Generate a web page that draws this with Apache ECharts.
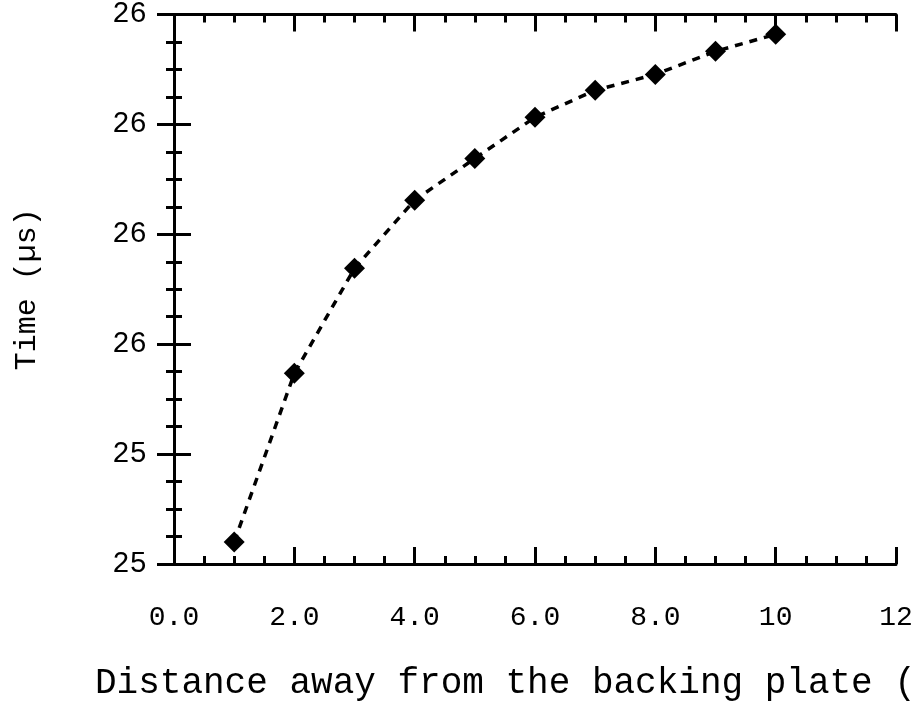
<!DOCTYPE html>
<html>
<head>
<meta charset="utf-8">
<script src="https://cdn.jsdelivr.net/npm/echarts@6/dist/echarts.min.js"></script>
<style>
  html, body { margin: 0; padding: 0; background: #fff; }
  #chart { width: 917px; height: 722px; }
</style>
</head>
<body>
<div id="chart"></div>
<script>
// distance from the backing plate and arrival time
var distance = [1, 2, 3, 4, 5, 6, 7, 8, 9, 10];
var timeUs = [25.24, 25.547, 25.738, 25.862, 25.938, 26.013, 26.062, 26.091, 26.133, 26.164];

var xTitle = 'Distance away from the backing plate (cm)';
var yTitle = 'Time (\u00b5s)';

var font = '"Liberation Mono", "DejaVu Sans Mono", monospace';

var points = [];
for (var i = 0; i < distance.length; i++) {
    points.push([distance[i], timeUs[i]]);
}

var chart = echarts.init(document.getElementById('chart'));

var lineStyle = { color: '#000', width: 3 };

var option = {
    animation: false,
    backgroundColor: '#fff',
    title: {
        text: xTitle,
        left: 95,
        top: 665,
        padding: 0,
        textStyle: {
            fontFamily: font,
            fontSize: 36,
            fontWeight: 'normal',
            color: '#000'
        }
    },
    grid: {
        left: 174,
        right: 21,
        top: 14,
        bottom: 158
    },
    xAxis: [{
        type: 'value',
        min: 0,
        max: 12,
        interval: 2,
        position: 'bottom',
        axisLine: { lineStyle: lineStyle },
        axisTick: { inside: true, length: 17, lineStyle: lineStyle },
        minorTick: { show: true, splitNumber: 4, length: 8, lineStyle: lineStyle },
        splitLine: { show: false },
        axisLabel: {
            margin: 40,
            fontFamily: font,
            fontSize: 28,
            color: '#000',
            formatter: function (v) {
                return v < 10 ? v.toFixed(1) : String(Math.round(v));
            }
        }
    }, {
        type: 'value',
        min: 0,
        max: 12,
        interval: 2,
        position: 'top',
        axisLine: { lineStyle: lineStyle },
        axisTick: { inside: true, length: 17, lineStyle: lineStyle },
        minorTick: { show: true, splitNumber: 4, length: 8, lineStyle: lineStyle },
        splitLine: { show: false },
        axisLabel: { show: false }
    }],
    yAxis: [{
        type: 'value',
        min: 25.2,
        max: 26.2,
        interval: 0.2,
        position: 'left',
        name: yTitle,
        nameLocation: 'middle',
        nameGap: 132,
        nameTextStyle: {
            fontFamily: font,
            fontSize: 30,
            color: '#000'
        },
        axisLine: { lineStyle: lineStyle },
        axisTick: { inside: true, length: 17, lineStyle: lineStyle },
        minorTick: { show: true, splitNumber: 4, length: 8, lineStyle: lineStyle },
        splitLine: { show: false },
        axisLabel: {
            margin: 27,
            fontFamily: font,
            fontSize: 29,
            color: '#000',
            formatter: function (v) {
                return String(Math.round(v));
            }
        }
    }, {
        type: 'value',
        min: 25.2,
        max: 26.2,
        interval: 0.2,
        position: 'right',
        axisLine: { lineStyle: lineStyle },
        axisTick: { inside: true, length: 17, lineStyle: lineStyle },
        minorTick: { show: true, splitNumber: 4, length: 8, lineStyle: lineStyle },
        splitLine: { show: false },
        axisLabel: { show: false }
    }],
    series: [{
        type: 'line',
        data: points,
        symbol: 'diamond',
        symbolSize: 21,
        itemStyle: { color: '#000' },
        lineStyle: {
            color: '#000',
            width: 3.5,
            type: [8, 7]
        }
    }]
};

chart.setOption(option);
</script>
</body>
</html>
